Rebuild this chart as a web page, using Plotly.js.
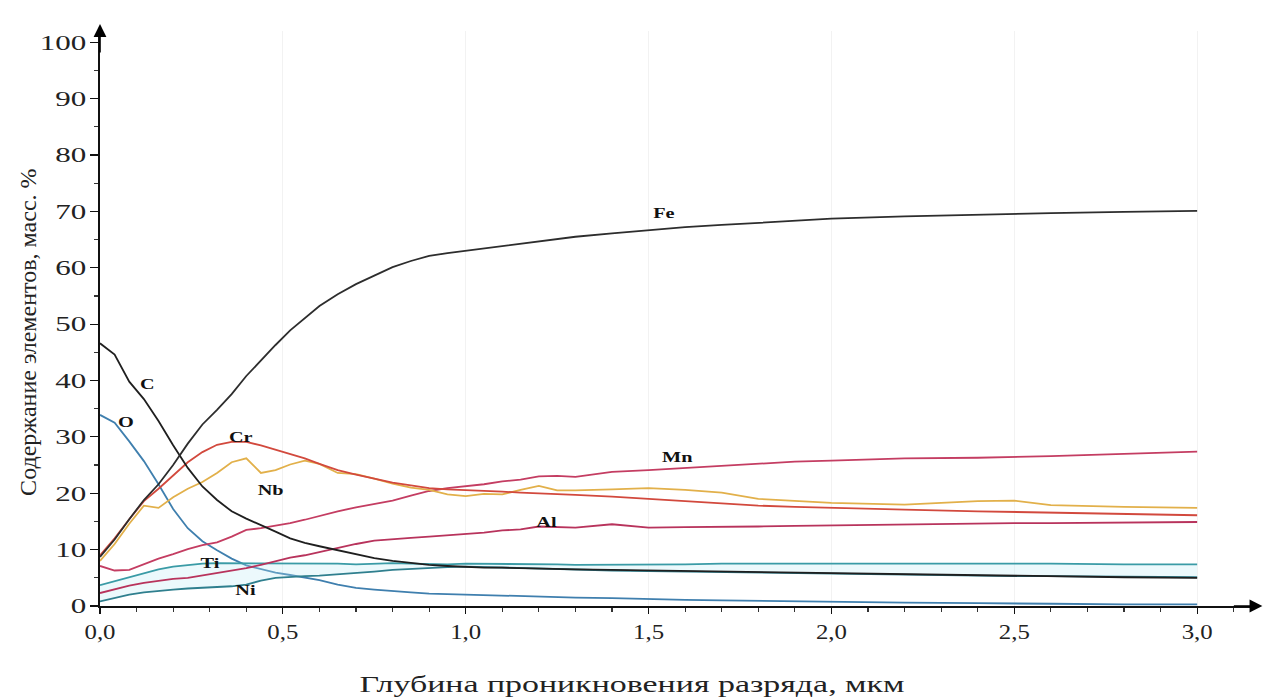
<!DOCTYPE html>
<html>
<head>
<meta charset="utf-8">
<script src="https://cdn.plot.ly/plotly-3.0.1.min.js"></script>
<style>html,body{margin:0;padding:0;background:#fff;}#chart{width:1265px;height:699px;}</style>
</head>
<body>
<div id="chart"></div>
<script>
// Depth, µm
var depth = [0, 0.04, 0.08, 0.12, 0.16, 0.2, 0.24, 0.28, 0.32, 0.36, 0.4, 0.44, 0.48, 0.52, 0.56, 0.6, 0.65, 0.7, 0.75, 0.8, 0.85, 0.9, 0.95, 1.0, 1.05, 1.1, 1.15, 1.2, 1.25, 1.3, 1.4, 1.5, 1.6, 1.7, 1.8, 1.9, 2.0, 2.2, 2.4, 2.5, 2.6, 2.8, 3.0];

var fe = [8.7, 11.8, 15.4, 18.8, 21.6, 25.0, 28.8, 32.2, 34.8, 37.6, 40.8, 43.6, 46.3, 48.9, 51.0, 53.2, 55.3, 57.1, 58.6, 60.1, 61.2, 62.1, 62.6, 63.0, 63.4, 63.9, 64.3, 64.6, 65.1, 65.5, 66.1, 66.7, 67.2, 67.6, 68.0, 68.4, 68.7, 69.1, 69.4, 69.6, 69.7, 69.9, 70.1];
var c  = [46.6, 44.6, 39.8, 36.7, 32.8, 28.5, 24.5, 21.2, 18.8, 16.8, 15.5, 14.4, 13.2, 12.0, 11.2, 10.6, 9.9, 9.1, 8.5, 8.0, 7.6, 7.3, 7.1, 6.9, 6.8, 6.8, 6.7, 6.6, 6.6, 6.5, 6.4, 6.3, 6.2, 6.1, 6.0, 5.9, 5.8, 5.6, 5.4, 5.3, 5.2, 5.1, 5.0];
var o  = [33.9, 32.5, 29.2, 25.7, 21.6, 17.2, 13.8, 11.5, 9.9, 8.4, 7.2, 6.5, 5.9, 5.5, 5.1, 4.6, 3.8, 3.2, 2.9, 2.6, 2.4, 2.2, 2.1, 2.0, 1.9, 1.8, 1.7, 1.7, 1.6, 1.5, 1.4, 1.2, 1.1, 1.0, 0.9, 0.8, 0.7, 0.6, 0.5, 0.5, 0.4, 0.3, 0.3];
var cr = [9.0, 12.0, 15.4, 18.6, 20.8, 23.2, 25.5, 27.3, 28.6, 29.1, 29.1, 28.5, 27.7, 27.0, 26.2, 25.2, 24.1, 23.3, 22.6, 21.9, 21.4, 20.9, 20.7, 20.6, 20.4, 20.3, 20.1, 20.0, 19.8, 19.7, 19.4, 19.0, 18.5, 18.1, 17.8, 17.6, 17.4, 17.1, 16.8, 16.7, 16.5, 16.3, 16.1];
var nb = [8.0, 11.0, 14.6, 17.8, 17.4, 19.3, 20.8, 22.0, 23.6, 25.5, 26.2, 23.6, 24.1, 25.1, 25.8, 25.2, 23.6, 23.4, 22.6, 21.7, 21.0, 20.6, 19.8, 19.5, 19.9, 19.8, 20.6, 21.3, 20.5, 20.5, 20.7, 20.9, 20.6, 20.1, 19.0, 18.6, 18.3, 18.0, 18.6, 18.7, 17.9, 17.6, 17.4];
var mn = [7.1, 6.3, 6.4, 7.4, 8.4, 9.2, 10.1, 10.8, 11.3, 12.3, 13.5, 13.8, 14.2, 14.7, 15.3, 16.0, 16.8, 17.5, 18.1, 18.7, 19.6, 20.4, 20.9, 21.2, 21.6, 22.1, 22.4, 23.0, 23.1, 22.9, 23.8, 24.1, 24.5, 24.8, 25.2, 25.6, 25.8, 26.2, 26.3, 26.4, 26.6, 27.0, 27.4];
var al = [2.3, 3.0, 3.6, 4.1, 4.5, 4.8, 5.0, 5.4, 5.8, 6.2, 6.7, 7.3, 8.0, 8.6, 9.0, 9.6, 10.3, 11.0, 11.6, 11.9, 12.1, 12.3, 12.5, 12.7, 13.0, 13.4, 13.6, 14.1, 14.0, 13.9, 14.5, 13.9, 14.0, 14.0, 14.1, 14.2, 14.3, 14.4, 14.6, 14.7, 14.7, 14.8, 14.9];
var ti = [3.7, 4.4, 5.2, 5.9, 6.5, 7.0, 7.3, 7.5, 7.6, 7.6, 7.5, 7.5, 7.6, 7.6, 7.5, 7.5, 7.5, 7.4, 7.5, 7.6, 7.5, 7.4, 7.4, 7.5, 7.5, 7.4, 7.5, 7.4, 7.4, 7.3, 7.3, 7.4, 7.4, 7.5, 7.5, 7.6, 7.6, 7.5, 7.6, 7.5, 7.5, 7.4, 7.4];
var ni = [0.8, 1.4, 2.0, 2.4, 2.7, 2.9, 3.1, 3.2, 3.3, 3.5, 3.8, 4.5, 5.0, 5.2, 5.3, 5.4, 5.6, 5.9, 6.1, 6.4, 6.6, 6.8, 6.9, 7.0, 6.9, 6.9, 6.8, 6.7, 6.6, 6.5, 6.3, 6.2, 6.1, 6.0, 5.9, 5.8, 5.7, 5.5, 5.4, 5.3, 5.3, 5.2, 5.1];

// Element labels and where they sit (depth, content)
var labelText = ["Fe", "C", "O", "Cr", "Nb", "Mn", "Al", "Ti", "Ni"];
var labelX    = [1.542, 0.129, 0.071, 0.386, 0.465, 1.58, 1.222, 0.30, 0.397];
var labelY    = [69.7, 39.4, 32.6, 30.0, 20.6, 26.4, 14.9, 7.6, 2.8];

var xTicks = [0, 0.5, 1.0, 1.5, 2.0, 2.5, 3.0];
var yTicks = [0, 10, 20, 30, 40, 50, 60, 70, 80, 90, 100];

var xTitle = 'Глубина проникновения разряда, мкм';
var yTitle = 'Содержание элементов, масс. %';

// pick a Times-like serif that is really installed
function pickSerif() {
  var cands = ['Liberation Serif', 'Tinos', 'Times New Roman', 'Nimbus Roman', 'FreeSerif', 'Noto Serif', 'DejaVu Serif'];
  var cv = document.createElement('canvas').getContext('2d');
  var sample = 'Глубина проникновения 0123456789 mmmWWWiii';
  function w(f) { cv.font = '40px ' + f; return cv.measureText(sample).width; }
  var bMono = w('monospace'), bSans = w('sans-serif');
  for (var i = 0; i < cands.length; i++) {
    var a = w('"' + cands[i] + '", monospace'), b = w('"' + cands[i] + '", sans-serif');
    if (Math.abs(a - bMono) > 0.5 || Math.abs(b - bSans) > 0.5) return cands[i];
  }
  return 'serif';
}
var SERIF = pickSerif();
var FONT = SERIF === 'serif' ? 'serif' : "'" + SERIF + "', serif";
var narrow = (SERIF !== 'DejaVu Serif');

function line(name, y, color, extra) {
  var t = {x: depth, y: y, name: name, type: 'scatter', mode: 'lines',
           line: {color: color, width: 1.8}, hoverinfo: 'x+y+name'};
  if (extra) for (var k in extra) t[k] = extra[k];
  return t;
}

var traces = [
  line('O', o, '#3f7fae'),
  line('Ni', ni, '#2f7f8e'),
  line('Ti', ti, '#3a9ba6', {fill: 'tonexty', fillcolor: 'rgba(185,235,245,0.28)'}),
  line('Al', al, '#b8335c'),
  line('Mn', mn, '#c43d62'),
  line('Nb', nb, '#e2b04a'),
  line('Cr', cr, '#d2493d'),
  line('C', c, '#1f1f1f'),
  line('Fe', fe, '#2d2d2d')
];

var annotations = labelText.map(function (t, i) {
  return {x: labelX[i], y: labelY[i], xref: 'x', yref: 'y', text: '<b>' + t + '</b>',
          showarrow: false, font: {family: FONT, size: 15, color: '#111'}};
});
// axis titles (placed as in the original, not centred on the plot area)
annotations.push({xref: 'paper', yref: 'paper', x: 0.462, y: -0.137, xanchor: 'center', yanchor: 'middle',
  text: xTitle, showarrow: false, font: {family: FONT, size: narrow ? 23 : 19, color: '#222'}});
annotations.push({xref: 'paper', yref: 'paper', x: -0.0625, y: 0.475, xanchor: 'center', yanchor: 'middle',
  textangle: -90, text: yTitle, showarrow: false, font: {family: FONT, size: narrow ? 24 : 20, color: '#222'}});
// axis arrowheads
annotations.push({xref: 'paper', yref: 'paper', x: 0, y: 1.012, ax: 0, ay: 30,
  axref: 'pixel', ayref: 'pixel', showarrow: true, arrowhead: 2, arrowsize: 1.6,
  arrowwidth: 1.6, arrowcolor: '#000', text: ''});
annotations.push({xref: 'paper', yref: 'paper', x: 1.009, y: 0, ax: -30, ay: 0,
  axref: 'pixel', ayref: 'pixel', showarrow: true, arrowhead: 2, arrowsize: 1.6,
  arrowwidth: 1.6, arrowcolor: '#000', text: ''});

var tickSize = narrow ? 21 : 18;
var layout = {
  width: 1265, height: 699,
  margin: {l: 100, r: 13, t: 31, b: 93},
  paper_bgcolor: '#fff', plot_bgcolor: '#fff',
  showlegend: false,
  separators: ', ',
  font: {family: FONT, color: '#222'},
  xaxis: {
    range: [0, 3.15], tickvals: xTicks, tickformat: '.1f',
    showline: true, linecolor: '#111', linewidth: 1.6,
    ticks: 'outside', ticklen: 6, tickcolor: '#111', tickwidth: 1.2,
    minor: {dtick: 0.1, ticks: 'outside', ticklen: 4, tickcolor: '#333', showgrid: false},
    showgrid: true, gridcolor: 'rgba(0,0,0,0.05)', gridwidth: 1,
    zeroline: false,
    tickfont: {family: FONT, size: tickSize, color: '#222'}
  },
  yaxis: {
    range: [0, 102], tickvals: yTicks,
    showline: true, linecolor: '#111', linewidth: 1.6,
    ticks: 'outside', ticklen: 8, tickcolor: '#111', tickwidth: 1.2,
    minor: {dtick: 5, ticks: 'outside', ticklen: 4, tickcolor: '#333', showgrid: false},
    showgrid: false, zeroline: false,
    tickfont: {family: FONT, size: tickSize, color: '#222'}
  },
  annotations: annotations
};

// widen horizontal text to given widths, as in the (horizontally stretched) original figure
function widenTo(sel, targetFn) {
  document.querySelectorAll(sel).forEach(function (el) {
    var w = el.getComputedTextLength();
    var t = targetFn(w, el.textContent);
    if (w > 0 && t) {
      el.setAttribute('textLength', t.toFixed(1));
      el.setAttribute('lengthAdjust', 'spacingAndGlyphs');
    }
  });
}

Plotly.newPlot('chart', traces, layout, {displayModeBar: false, staticPlot: true}).then(function () {
  widenTo('.xtick text', function () { return 31; });
  widenTo('.ytick text', function (w, s) { return 15.5 * s.length; });
  widenTo('.annotation-text', function (w, s) {
    if (s === xTitle) return 545;
    if (s === yTitle) return null;
    return w * (narrow ? 1.35 : 1.1);
  });
});
</script>
</body>
</html>
